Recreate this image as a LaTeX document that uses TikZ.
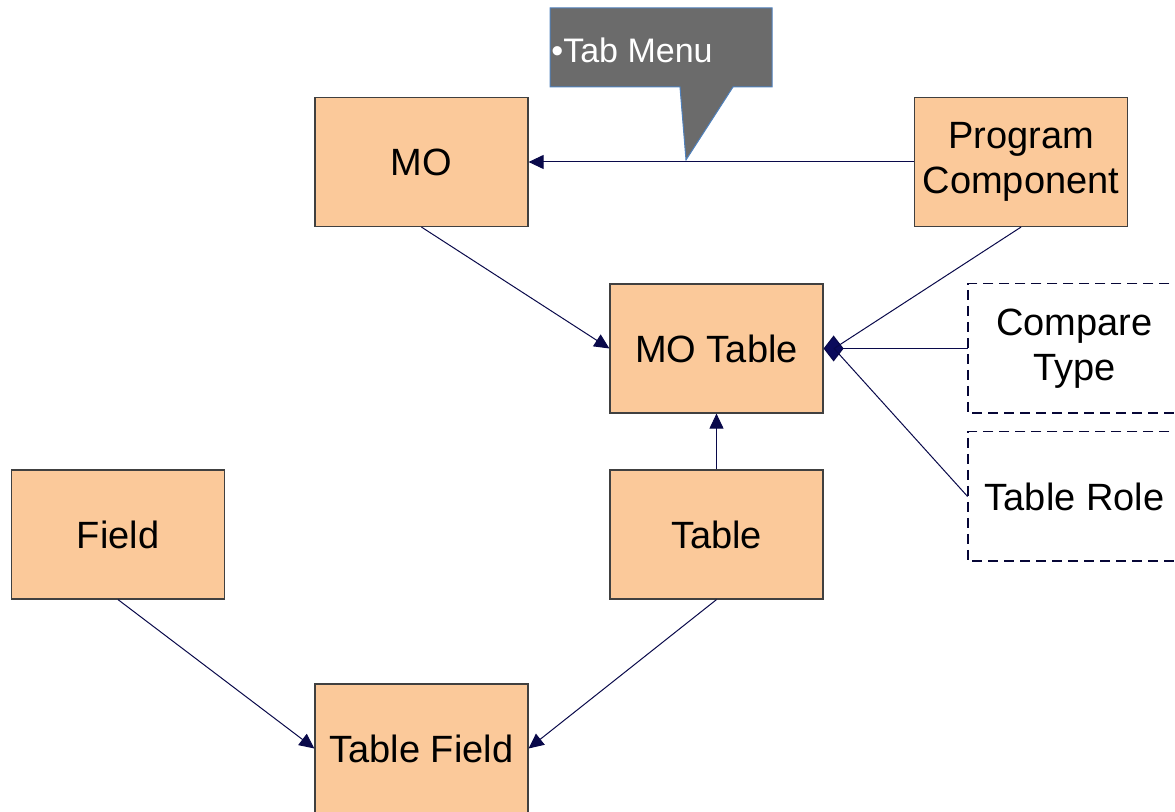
\documentclass[tikz,border=0pt]{standalone}
\usepackage{fontspec}
\setmainfont{Liberation Sans}
\usetikzlibrary{arrows.meta}
\definecolor{peach}{HTML}{FBC99A}
\definecolor{navy}{HTML}{0B0B5C}
\definecolor{callgray}{HTML}{6B6B6B}
\definecolor{callblue}{HTML}{4F81BD}

\begin{document}
\begin{tikzpicture}[x=0.5pt,y=0.5pt]
\tikzstyle{every node}+=[inner sep=0pt,font=\fontsize{19}{22.5}\selectfont]
\tikzstyle{entity}=[draw=black!75,fill=peach,line width=0.6pt,minimum width=106.5pt,minimum height=64.5pt,align=center]
\tikzstyle{extra}=[minimum width=106.5pt,minimum height=64.5pt,align=center]
\tikzstyle{frame}=[draw=navy!60!black,dash pattern=on 5pt off 3pt,line width=0.9pt]
\tikzstyle{link}=[draw=navy!80!black,line width=0.5pt,-{Triangle[length=7.5pt,width=7pt]}]
\useasboundingbox (0,0) rectangle (1175,-812);
\node [entity] (mo) at (421.5,-162) {MO};
\node [entity] (pc) at (1021,-162) {Program\\Component};
\node [entity] (mot) at (716.5,-348.5) {MO Table};
\node [extra] (ct) at (1074.5,-348.5) {Compare\\Type};
\node [extra] (tr) at (1074.5,-496.5) {Table Role};
\node [entity] (fld) at (118,-534.5) {Field};
\node [entity] (tbl) at (716.5,-534.5) {Table};
\node [entity] (tf) at (421.5,-748.5) {Table Field};
\coordinate (agg) at (834,-348.5);
% open frames, cut by the right edge
\draw [frame] ([xshift=10pt]ct.north east) -- (ct.north west) -- (ct.south west) -- ([xshift=10pt]ct.south east);
\draw [frame] ([xshift=10pt]tr.north east) -- (tr.north west) -- (tr.south west) -- ([xshift=10pt]tr.south east);
% callout
\fill [callgray,draw=callblue,line width=0.5pt] (550,-8) -- (772,-8) -- (772,-87) -- (733,-87) -- (686,-160) -- (680,-87) -- (550,-87) -- cycle;
\node [anchor=west,text=white,font=\fontsize{17}{20}\selectfont] (tab) at (551,-50) {•Tab Menu};
% connectors
\draw [link] (pc.west) -- (mo.east);
\draw [link] (mo.south) -- (mot.west);
\draw [link] (tbl.north) -- (mot.south);
\draw [link] (fld.south) -- (tf.west);
\draw [link] (tbl.south) -- (tf.east);
\draw [draw=navy!80!black,line width=0.5pt,-{Diamond[length=10pt,width=13pt,fill=navy]}] (ct.west) -- (mot.east);
\draw [draw=navy!80!black,line width=0.5pt] (pc.south) -- (agg);
\draw [draw=navy!80!black,line width=0.5pt] (tr.west) -- (agg);
\end{tikzpicture}
\end{document}
